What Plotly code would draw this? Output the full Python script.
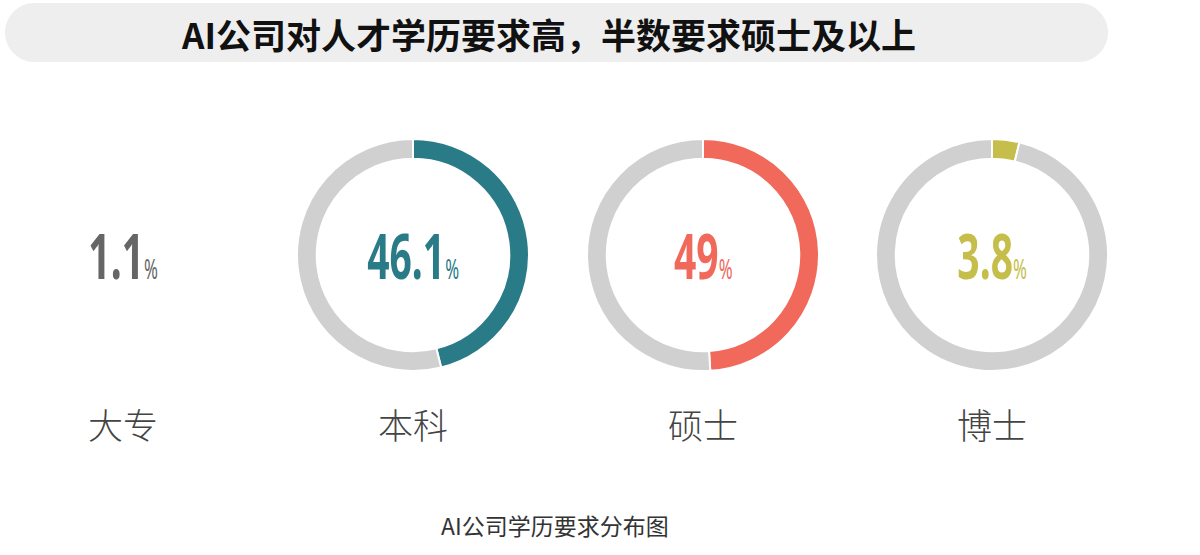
import plotly.graph_objects as go

W, H = 1200, 555

categories = ["大专", "本科", "硕士", "博士"]
percentages = [1.1, 46.1, 49, 3.8]
value_labels = ["1.1", "46.1", "49", "3.8"]
colors = ["#666666", "#2a7b88", "#f0695a", "#c5be4a"]
show_ring = [False, True, True, True]
title_text = "AI公司对人才学历要求高，半数要求硕士及以上"
caption_text = "AI公司学历要求分布图"

ring_grey = "#d0d0d0"
centers_x = [123, 413, 703, 992]
center_y = 255
radius = 116


def px(x):
    return x / W


def py(y):
    return 1 - y / H


fig = go.Figure()

for i, cat in enumerate(categories):
    cx = centers_x[i]
    if show_ring[i]:
        fig.add_trace(go.Pie(
            values=[percentages[i], 100 - percentages[i]],
            labels=[cat, "其他"],
            marker=dict(colors=[colors[i], ring_grey], line=dict(color="white", width=2)),
            hole=0.83,
            sort=False,
            direction="clockwise",
            rotation=0,
            textinfo="none",
            hoverinfo="label+percent",
            showlegend=False,
            domain=dict(x=[px(cx - radius), px(cx + radius)],
                        y=[py(center_y + radius), py(center_y - radius)]),
        ))
    fig.add_annotation(
        x=px(cx), y=py(center_y), xref="paper", yref="paper",
        text=(f"<b>{value_labels[i]}</b>"
              f"<span style='font-size:27px'>%</span>"),
        showarrow=False, xanchor="center", yanchor="middle",
        font=dict(family="Noto Sans, Open Sans, sans-serif",
                  size=63, color=colors[i]),
    )
    fig.add_annotation(
        x=px(cx), y=py(423), xref="paper", yref="paper",
        text=cat, showarrow=False, xanchor="center", yanchor="middle",
        font=dict(family="Noto Sans CJK SC", size=35, color="#444444", weight=300),
    )

# title pill
x0, x1, y0, y1 = 5, 1108, 3, 62
r = (y1 - y0) / 2
k = 0.5523 * r
ym = (y0 + y1) / 2
path = (
    f"M {px(x0 + r)},{py(y0)} L {px(x1 - r)},{py(y0)} "
    f"C {px(x1 - r + k)},{py(y0)} {px(x1)},{py(ym - k)} {px(x1)},{py(ym)} "
    f"C {px(x1)},{py(ym + k)} {px(x1 - r + k)},{py(y1)} {px(x1 - r)},{py(y1)} "
    f"L {px(x0 + r)},{py(y1)} "
    f"C {px(x0 + r - k)},{py(y1)} {px(x0)},{py(ym + k)} {px(x0)},{py(ym)} "
    f"C {px(x0)},{py(ym - k)} {px(x0 + r - k)},{py(y0)} {px(x0 + r)},{py(y0)} Z"
)
fig.add_shape(type="path", path=path, xref="paper", yref="paper",
              fillcolor="#eeeeee", line=dict(width=0), layer="below")

fig.add_annotation(
    x=px(548), y=py(33), xref="paper", yref="paper",
    text=f"<b>{title_text}</b>", showarrow=False, xanchor="center", yanchor="middle",
    font=dict(family="Noto Sans CJK SC", size=35, color="#111111"),
)

fig.add_annotation(
    x=px(555), y=py(525), xref="paper", yref="paper",
    text=caption_text, showarrow=False, xanchor="center", yanchor="middle",
    font=dict(family="Noto Sans CJK SC", size=23, color="#333333"),
)

fig.update_layout(
    width=W, height=H,
    margin=dict(l=0, r=0, t=0, b=0),
    paper_bgcolor="white", plot_bgcolor="white",
    showlegend=False,
)

post_js = """
document.body.style.margin='0';
document.body.style.padding='0';
var gd = document.getElementById('{plot_id}');
gd.querySelectorAll('text.annotation-text').forEach(function(t){
  var s = t.getAttribute('data-unformatted') || '';
  if (s.indexOf('%') < 0) return;
  var orig = t.getAttribute('transform') || '';
  var b = t.getBBox();
  var cx = b.x + b.width / 2;
  t.setAttribute('transform', orig + ' translate(' + cx + ',0) scale(0.62,1) translate(' + (-cx) + ',0)');
});
"""

fig.write_html("out.html", config={"displayModeBar": False}, post_script=post_js)
